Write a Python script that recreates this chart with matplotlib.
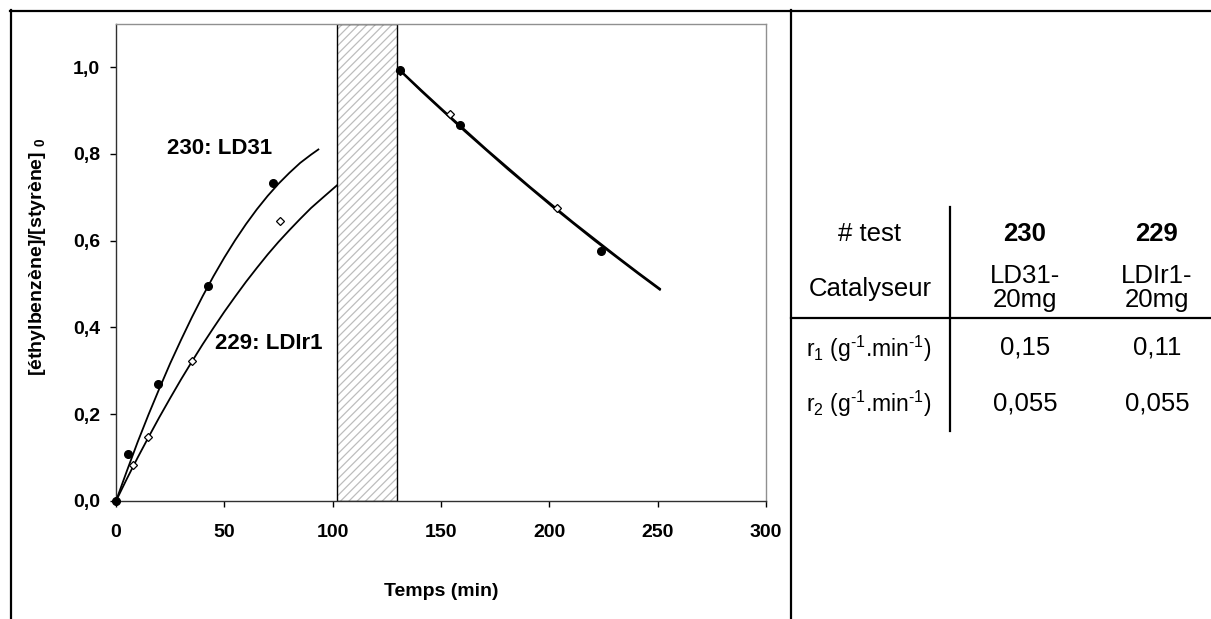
import matplotlib
matplotlib.use('Agg')
import matplotlib.pyplot as plt
from matplotlib.lines import Line2D

plt.rcParams['font.family'] = ['Liberation Sans', 'DejaVu Sans']
plt.rcParams['mathtext.fontset'] = 'custom'
plt.rcParams['mathtext.rm'] = 'Liberation Sans'
plt.rcParams['mathtext.it'] = 'Liberation Sans:italic'
plt.rcParams['mathtext.bf'] = 'Liberation Sans:bold'
plt.rcParams['hatch.linewidth'] = 0.9

# ---------------- data ----------------
# measured points, test 230 (LD31) - filled circles
t230 = [0, 5.4, 19.5, 42.6, 72.3, 131.1, 158.7, 223.7]
y230 = [0, 0.108, 0.270, 0.496, 0.733, 0.992, 0.866, 0.576]
# measured points, test 229 (LDIr1) - open diamonds
t229 = [0, 7.8, 14.9, 35.2, 75.8, 131.1, 154.1, 203.4]
y229 = [0, 0.083, 0.148, 0.323, 0.645, 0.990, 0.891, 0.674]

# trend curves
c230_t = [0, 5, 10, 15, 20, 25, 30, 35, 40, 45, 50, 55, 60, 65, 70, 75, 80, 85, 90, 93.4]
c230_y = [0, 0.069, 0.136, 0.199, 0.259, 0.317, 0.371, 0.423, 0.472, 0.518, 0.561,
          0.601, 0.638, 0.672, 0.703, 0.731, 0.756, 0.779, 0.798, 0.810]
c229_t = [0, 5, 10, 15, 20, 25, 30, 35, 40, 45, 50, 55, 60, 65, 70, 75, 80, 85, 90, 95, 101.9]
c229_y = [0, 0.051, 0.100, 0.147, 0.193, 0.237, 0.280, 0.321, 0.361, 0.399, 0.436,
          0.471, 0.505, 0.537, 0.568, 0.597, 0.624, 0.650, 0.675, 0.697, 0.727]
d_t = [131, 141, 151, 161, 171, 181, 191, 201, 211, 221, 231, 241, 251]
d230_y = [0.993, 0.946, 0.900, 0.855, 0.810, 0.767, 0.724, 0.683, 0.642, 0.603, 0.564, 0.526, 0.489]
d229_y = [0.992, 0.944, 0.898, 0.852, 0.808, 0.764, 0.722, 0.680, 0.640, 0.600, 0.562, 0.524, 0.487]

pause = (102.1, 129.8)   # hatched interval (min)

x_ticks = [0, 50, 100, 150, 200, 250, 300]
y_ticks = [0.0, 0.2, 0.4, 0.6, 0.8, 1.0]
y_ticklabels = ['0,0', '0,2', '0,4', '0,6', '0,8', '1,0']

tbl_cols = ['230', '229']
tbl_cat = ['LD31-\n20mg', 'LDIr1-\n20mg']
tbl_r1 = ['0,15', '0,11']
tbl_r2 = ['0,055', '0,055']

# ---------------- figure ----------------
W, H = 1211, 619
fig = plt.figure(figsize=(W / 100, H / 100), dpi=100)
ax = fig.add_axes([116 / W, 1 - 501 / H, 650 / W, 477.4 / H])

ax.axvspan(pause[0], pause[1], facecolor='white', edgecolor='#bdbdbd',
           hatch='////', lw=0, zorder=1)
ax.axvspan(pause[0], pause[1], fill=False, edgecolor='black', lw=1.0, zorder=2)

lw = 1.3
ax.plot(c230_t, c230_y, color='black', lw=lw, zorder=3)
ax.plot(c229_t, c229_y, color='black', lw=lw, zorder=3)
ax.plot(d_t, d230_y, color='black', lw=1.5, zorder=3)
ax.plot(d_t, d229_y, color='black', lw=1.5, zorder=3)

ax.plot(t229, y229, ls='none', marker='D', ms=4.2, mfc='white', mec='black',
        mew=0.9, zorder=4, clip_on=False)
ax.plot(t230, y230, ls='none', marker='o', ms=5.5, mfc='black', mec='black',
        zorder=5, clip_on=False)

ax.text(48.0, 0.813, '230: LD31', fontsize=16, fontweight='bold', ha='center', va='center')
ax.text(70.4, 0.363, '229: LDIr1', fontsize=16, fontweight='bold', ha='center', va='center')

ax.set_xlim(0, 300)
ax.set_ylim(0, 1.1)
ax.set_xticks(x_ticks)
ax.set_xticklabels([str(v) for v in x_ticks], fontweight='bold', fontsize=14)
ax.set_yticks(y_ticks)
ax.set_yticklabels(y_ticklabels, fontweight='bold', fontsize=14)
ax.tick_params(axis='x', direction='out', length=4.5, width=1, pad=12, colors='black')
ax.tick_params(axis='y', direction='out', length=4.5, width=1, pad=7, colors='black')
for s in ['left', 'bottom']:
    ax.spines[s].set_color('#303030')
    ax.spines[s].set_linewidth(1.0)
for s in ['top', 'right']:
    ax.spines[s].set_color('#909090')
    ax.spines[s].set_linewidth(1.0)

ax.set_xlabel('Temps (min)', fontsize=14, fontweight='bold', labelpad=30)
ax.set_ylabel('[éthylbenzène]/[styrène] ${}_\\mathbf{0}$', fontsize=14, fontweight='bold')
ax.yaxis.set_label_coords(-0.12, 0.513)
ax.yaxis.label.set_va('center')

# ---------------- frame lines ----------------
def fline(x0, y0, x1, y1, lw=2.0):
    fig.add_artist(Line2D([x0 / W, x1 / W], [1 - y0 / H, 1 - y1 / H],
                          color='black', lw=lw, transform=fig.transFigure))

fline(10, 11, W, 11, 1.6)
fline(11, 10, 11, H, 1.6)
fline(791, 10, 791, H, 1.6)
fline(791, 318, W, 318, 1.6)
fline(950, 207, 950, 431, 1.6)

# ---------------- table ----------------
fs = 18.5
def ft(x, y, s, **kw):
    fig.text(x / W, 1 - y / H, s, fontsize=kw.pop('fontsize', fs), **kw)

sup = r'$^{\text{-}1}$'
col_x = [1025, 1157]
ft(869, 234, '# test', ha='center', va='center')
ft(870, 289, 'Catalyseur', ha='center', va='center')
ft(806, 349, 'r$_1$ (g' + sup + '.min' + sup + ')', ha='left', va='center', fontsize=16.5)
ft(806, 404, 'r$_2$ (g' + sup + '.min' + sup + ')', ha='left', va='center', fontsize=16.5)
for i, cx in enumerate(col_x):
    ft(cx, 234, tbl_cols[i], ha='center', va='center', fontweight='bold')
    ft(cx, 288, tbl_cat[i], ha='center', va='center', linespacing=1.05)
    ft(cx, 348, tbl_r1[i], ha='center', va='center')
    ft(cx, 403, tbl_r2[i], ha='center', va='center')

fig.savefig('out.png', dpi=100)
